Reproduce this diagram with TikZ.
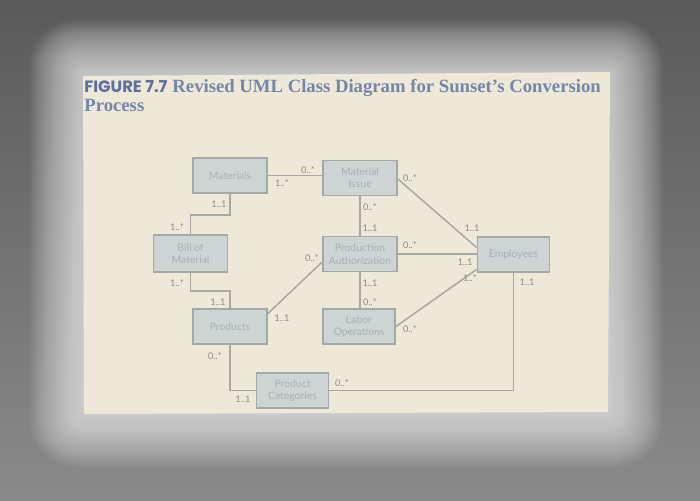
\documentclass[tikz,border=0pt]{standalone}
\usepackage{fontspec}
\setmainfont{Liberation Serif}
\newfontfamily\figsans{Poppins}
\newfontfamily\boxfont{Lato}
\usetikzlibrary{calc}
\definecolor{bgtop}{HTML}{5A5A5A}
\definecolor{bgbot}{HTML}{8A8A8A}
\definecolor{pagec}{HTML}{EDE8D8}
\definecolor{boxfill}{HTML}{CDD4D3}
\definecolor{boxline}{HTML}{A2A9A7}
\definecolor{boxtext}{HTML}{A8B0B2}
\definecolor{multc}{HTML}{8A8D89}
\definecolor{linec}{HTML}{A5A8A3}
\definecolor{titlesans}{HTML}{5C6F9E}
\definecolor{titleserif}{HTML}{7486AA}
\begin{document}
\begin{tikzpicture}[x=0.5pt,y=-0.5pt,
  umlbox/.style={draw=boxline,fill=boxfill,line width=0.9pt,minimum width=37pt,minimum height=17.5pt,
    inner sep=0pt,align=center,text=boxtext,font=\boxfont\fontsize{5.2}{6.2}\selectfont},
  mult/.style={inner sep=0pt,text=multc,font=\boxfont\fontsize{4.6}{5}\selectfont},
  conn/.style={draw=linec,line width=0.75pt}]
\useasboundingbox (0,0) rectangle (700,500);
\shade[top color=bgtop,bottom color=bgbot] (0,0) rectangle (700,500);
\foreach \i in {1,...,36}
  \fill[white,opacity=0.03,rounded corners={2pt+0.6pt*\i}] ({83-1.5*\i},{74-1.5*\i}) rectangle ({609+1.5*\i},{413+1.5*\i});
\fill[pagec] (83,76) -- (610,72) -- (608,412) -- (84,414) -- cycle;
% title
\node[anchor=base west,inner sep=0pt] (t1) at (84,92)
  {{\figsans\bfseries\fontsize{8.2}{10}\selectfont\color{titlesans}FIGURE 7.7} {\bfseries\fontsize{9.35}{10}\selectfont\color{titleserif}Revised UML Class Diagram for Sunset’s Conversion}};
\node[anchor=base west,inner sep=0pt] (t2) at (84,111)
  {\bfseries\fontsize{9.35}{10}\selectfont\color{titleserif}Process};
% boxes
\node[umlbox] (mat)  at (230,175.5) {Materials};
\node[umlbox] (mi)   at (360,178) {Material\\Issue};
\node[umlbox,minimum height=18.5pt] (bom) at (190.5,253.5) {Bill of\\Material};
\node[umlbox] (pa)   at (360,254) {Production\\Authorization};
\node[umlbox,minimum width=36pt] (emp) at (513.5,254.5) {Employees};
\node[umlbox] (prod) at (230,326.5) {Products};
\node[umlbox,minimum width=36pt] (lo) at (359,326.5) {Labor\\Operations};
\node[umlbox,minimum width=36pt] (pc) at (292.5,390.5) {Product\\Categories};
% connectors
\draw[conn] (mat.east) -- (mat.east -| mi.west);
\draw[conn] (mat.south) -- ++(0,21) -| (bom.north);
\draw[conn] (bom.south) -- ++(0,18) -| (prod.north);
\draw[conn] (prod.south) |- (pc.west);
\draw[conn] (pc.east) -| (emp.south);
\draw[conn] (mi.south) -- (pa.north);
\draw[conn] (pa.south) -- (pa.south |- lo.north);
\draw[conn] (pa.east) -- (pa.east -| emp.west);
\draw[conn] ([yshift=-0.5pt]mi.east) -- ([yshift=3.5pt]emp.west);
\draw[conn] ([yshift=6.5pt]prod.east) -- ([yshift=-4pt]pa.west);
\draw[conn] (lo.east) -- ([yshift=-7.5pt]emp.west);
% multiplicities
\node[mult] (m1) at (308,170) {0..*};
\node[mult] (m2) at (282,183) {1..*};
\node[mult] (m3) at (219,204) {1..1};
\node[mult] (m4) at (177,227) {1..*};
\node[mult] (m5) at (177,283) {1..*};
\node[mult] (m6) at (218,302) {1..1};
\node[mult] (m7) at (215,356) {0..*};
\node[mult] (m8) at (243,399) {1..1};
\node[mult] (m9) at (342,383) {0..*};
\node[mult] (m10) at (527,282) {1..1};
\node[mult] (m11) at (370,207) {0..*};
\node[mult] (m12) at (370,228) {1..1};
\node[mult] (m13) at (370,283) {1..1};
\node[mult] (m14) at (370,302) {0..*};
\node[mult] (m15) at (410,178) {0..*};
\node[mult] (m16) at (472,228) {1..1};
\node[mult] (m17) at (410,245) {0..*};
\node[mult] (m18) at (465,262) {1..1};
\node[mult] (m19) at (312,258) {0..*};
\node[mult] (m20) at (282,318) {1..1};
\node[mult] (m21) at (470,278) {1..*};
\node[mult] (m22) at (410,329) {0..*};
\end{tikzpicture}
\end{document}
